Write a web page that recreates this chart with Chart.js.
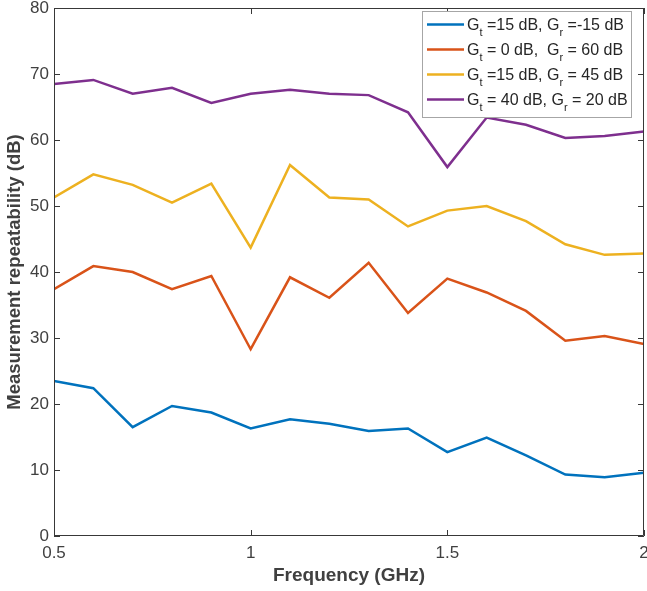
<!DOCTYPE html>
<html>
<head>
<meta charset="utf-8">
<title>Measurement repeatability</title>
<script src="https://cdn.jsdelivr.net/npm/chart.js@4.4.1/dist/chart.umd.min.js"></script>
<style>
  html, body { margin: 0; padding: 0; background: #fff; }
  #wrap { width: 647px; height: 591px; }
</style>
</head>
<body>
<div id="wrap"><canvas id="repeatChart" width="647" height="591"></canvas></div>
<script>
// Frequency points (GHz)
const freq = [0.5, 0.6, 0.7, 0.8, 0.9, 1.0, 1.1, 1.2, 1.3, 1.4, 1.5, 1.6, 1.7, 1.8, 1.9, 2.0];

// Repeatability (dB) for each gain setting
const gt15gr15 = [23.5, 22.4, 16.5, 19.7, 18.7, 16.3, 17.7, 17.0, 15.9, 16.3, 12.7, 14.9, 12.2, 9.3, 8.9, 9.6];
const gt0gr60 = [37.4, 40.9, 40.0, 37.4, 39.4, 28.3, 39.2, 36.1, 41.4, 33.8, 39.0, 36.9, 34.1, 29.6, 30.3, 29.1];
const gt15gr45 = [51.3, 54.8, 53.2, 50.5, 53.4, 43.7, 56.2, 51.3, 51.0, 46.9, 49.3, 50.0, 47.7, 44.2, 42.6, 42.8];
const gt40gr20 = [68.5, 69.1, 67.0, 67.9, 65.6, 67.0, 67.6, 67.0, 66.8, 64.2, 55.9, 63.4, 62.3, 60.3, 60.6, 61.3];

// Axis ticks
const xTicks = [0.5, 1, 1.5, 2];
const xTickLabels = ['0.5', '1', '1.5', '2'];
const yTicks = [0, 10, 20, 30, 40, 50, 60, 70, 80];

// Legend text pieces after G_t and after G_r
const legendParts = [
    [' =15 dB, G', ' =-15 dB'],
    [' = 0 dB,  G', ' = 60 dB'],
    [' =15 dB, G', ' = 45 dB'],
    [' = 40 dB, G', ' = 20 dB']
];

const colors = ['#0072BD', '#D95319', '#EDB120', '#7E2F8E'];
const series = [gt15gr15, gt0gr60, gt15gr45, gt40gr20];
const labels = ['Gt =15 dB, Gr =-15 dB', 'Gt = 0 dB, Gr = 60 dB', 'Gt =15 dB, Gr = 45 dB', 'Gt = 40 dB, Gr = 20 dB'];

const FONT = "'Liberation Sans', Arial, Helvetica, sans-serif";
const INK = '#404040';

// Box around the axes with inward tick marks on all four sides
const axesBox = {
    id: 'axesBox',
    afterDatasetsDraw(chart) {
        const { ctx, chartArea: a, scales: { x, y } } = chart;
        const len = 6;
        ctx.save();
        ctx.strokeStyle = '#383838';
        ctx.lineWidth = 1;
        ctx.beginPath();
        ctx.rect(a.left + 0.5, a.top + 0.5, a.right - a.left - 1, a.bottom - a.top - 1);
        xTicks.forEach(v => {
            const px = Math.round(x.getPixelForValue(v)) + 0.5;
            ctx.moveTo(px, a.bottom); ctx.lineTo(px, a.bottom - len);
            ctx.moveTo(px, a.top); ctx.lineTo(px, a.top + len);
        });
        yTicks.forEach(v => {
            const py = Math.round(y.getPixelForValue(v)) + 0.5;
            ctx.moveTo(a.left, py); ctx.lineTo(a.left + len, py);
            ctx.moveTo(a.right, py); ctx.lineTo(a.right - len, py);
        });
        ctx.stroke();
        ctx.restore();
    }
};

// Legend with subscripted G_t / G_r
const subLegend = {
    id: 'subLegend',
    afterDraw(chart) {
        const { ctx } = chart;
        const bx = 422.5, by = 11.5, bw = 209, bh = 106;
        ctx.save();
        ctx.fillStyle = '#fff';
        ctx.fillRect(bx, by, bw, bh);
        ctx.strokeStyle = '#a6a6a6';
        ctx.lineWidth = 1;
        ctx.strokeRect(bx, by, bw, bh);
        legendParts.forEach((p, i) => {
            const base = 29.5 + i * 25;
            const ly = base - 5;
            ctx.strokeStyle = colors[i];
            ctx.lineWidth = 2.5;
            ctx.beginPath();
            ctx.moveTo(427, ly);
            ctx.lineTo(464, ly);
            ctx.stroke();

            ctx.fillStyle = '#262626';
            ctx.textBaseline = 'alphabetic';
            ctx.textAlign = 'left';
            let tx = 467;
            const big = '16px ' + FONT, small = '11px ' + FONT;
            const run = (txt, font, dy) => {
                ctx.font = font;
                ctx.fillText(txt, tx, base + dy);
                tx += ctx.measureText(txt).width;
            };
            run('G', big, 0);
            run('t', small, 6);
            run(p[0], big, 0);
            run('r', small, 6);
            run(p[1], big, 0);
        });
        ctx.restore();
    }
};

const ctx = document.getElementById('repeatChart').getContext('2d');
new Chart(ctx, {
    type: 'line',
    data: {
        datasets: series.map((s, i) => ({
            label: labels[i],
            data: s.map((v, j) => ({ x: freq[j], y: v })),
            borderColor: colors[i],
            backgroundColor: colors[i],
            borderWidth: 2.5,
            pointRadius: 0,
            tension: 0,
            fill: false
        }))
    },
    options: {
        responsive: false,
        animation: false,
        layout: { padding: { top: 8, right: 3, left: 0, bottom: 0 } },
        plugins: { legend: { display: false }, tooltip: { enabled: false } },
        scales: {
            x: {
                type: 'linear',
                min: 0.5,
                max: 2,
                afterBuildTicks: s => { s.ticks = xTicks.map(v => ({ value: v })); },
                afterFit: s => { s.height = 55; s.paddingLeft = 0; s.paddingRight = 0; },
                grid: { display: false, drawTicks: false },
                border: { display: false },
                ticks: {
                    autoSkip: false, maxRotation: 0, padding: 7, color: INK,
                    font: { family: FONT, size: 17 },
                    callback: v => xTickLabels[xTicks.indexOf(v)]
                },
                title: {
                    display: true, text: 'Frequency (GHz)', color: INK,
                    font: { family: FONT, size: 19, weight: 'bold', lineHeight: 1.2 },
                    padding: { top: 0, bottom: 4 }
                }
            },
            y: {
                min: 0,
                max: 80,
                afterBuildTicks: s => { s.ticks = yTicks.map(v => ({ value: v })); },
                afterFit: s => { s.width = 54; s.paddingTop = 0; s.paddingBottom = 0; },
                grid: { display: false, drawTicks: false },
                border: { display: false },
                ticks: {
                    padding: 5, color: INK,
                    font: { family: FONT, size: 17 },
                    callback: v => String(v)
                },
                title: {
                    display: true, text: 'Measurement repeatability (dB)', color: INK,
                    font: { family: FONT, size: 18.5, weight: 'bold', lineHeight: 1.2 },
                    padding: { top: 4, bottom: 0 }
                }
            }
        }
    },
    plugins: [axesBox, subLegend]
});
</script>
</body>
</html>
